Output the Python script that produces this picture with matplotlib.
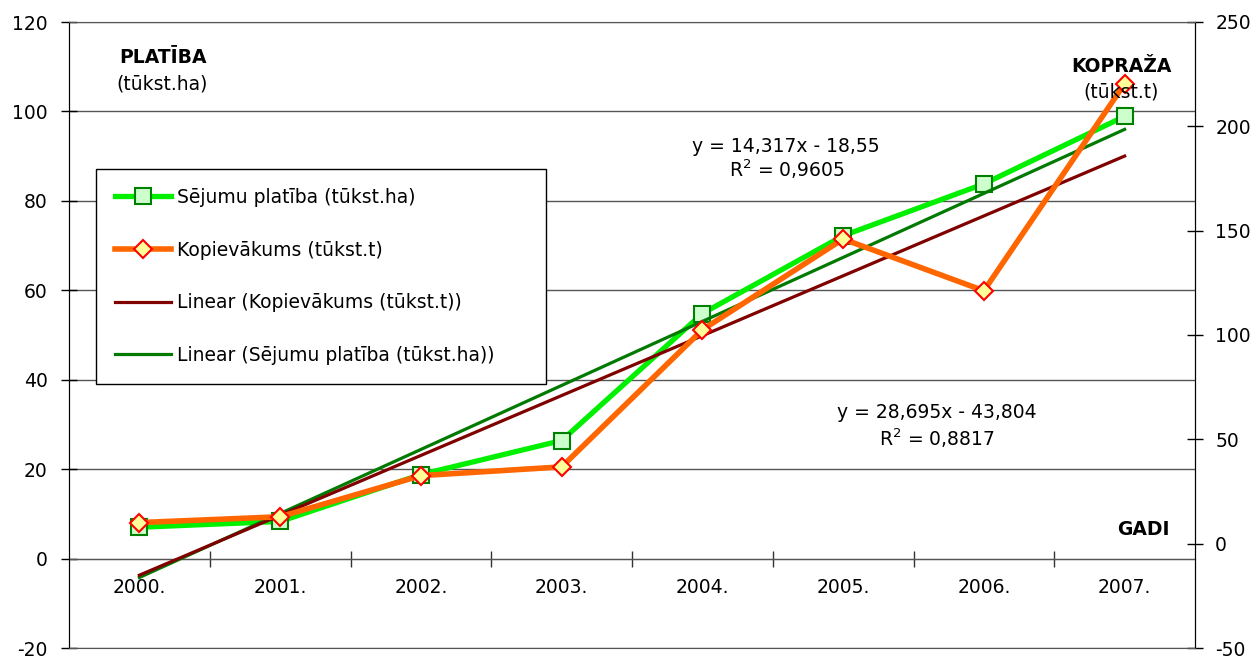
import numpy as np
import matplotlib
matplotlib.use("Agg")
import matplotlib.pyplot as plt
from matplotlib.ticker import MultipleLocator, FixedLocator

plt.rcParams['font.family'] = ['DejaVu Sans']
plt.rcParams['axes.unicode_minus'] = False

years = ["2000.", "2001.", "2002.", "2003.", "2004.", "2005.", "2006.", "2007."]
platiba = [7.0, 8.3, 18.8, 26.4, 54.8, 72.2, 83.8, 98.9]           # tūkst.ha
kopievakums = [10.1, 12.9, 32.6, 36.8, 102.5, 146.0, 121.2, 220.4]  # tūkst.t

# linear trend coefficients (x = 1..8)
platiba_trend = (14.317, -18.55, 0.9605)
kopiev_trend = (28.695, -43.804, 0.8817)

FS = 13.5
x = np.arange(1, len(years) + 1)

fig = plt.figure(figsize=(12.57, 6.58), dpi=100)
W, H = 1257, 658
ax = fig.add_axes([69 / W, 1 - 648 / H, (1195 - 69) / W, (648 - 22) / H])
ax2 = ax.twinx()

# primary axis: sown area
ax.plot(x, platiba, color='#00F000', lw=3.8, marker='s', ms=12,
        mfc='#CCFFCC', mec='#008000', mew=1.5, zorder=3,
        label='Sējumu platība (tūkst.ha)')
ax.plot(x, platiba_trend[0] * x + platiba_trend[1], color='#007A00', lw=2.3,
        zorder=4, label='Linear (Sējumu platība (tūkst.ha))')

# secondary axis: harvest
ax2.plot(x, kopiev_trend[0] * x + kopiev_trend[1], color='#800000', lw=2.3,
         zorder=2, label='Linear (Kopievākums (tūkst.t))')
ax2.plot(x, kopievakums, color='#FF6600', lw=4, marker='D', ms=9.6,
         mfc='#FFFF99', mec='#FF0000', mew=1.5, zorder=3,
         label='Kopievākums (tūkst.t)')

ax.set_xlim(0.5, 8.5)
ax.set_ylim(-20, 120)
ax2.set_ylim(-50, 250)
ax.yaxis.set_major_locator(MultipleLocator(20))
ax2.yaxis.set_major_locator(MultipleLocator(50))

ax.grid(axis='y', color='#555555', lw=1)
ax.set_axisbelow(True)

# category axis crossing at zero
ax.spines['bottom'].set_position(('data', 0))
ax.spines['bottom'].set_color('#555555')
ax.spines['top'].set_visible(False)
ax2.spines['top'].set_color('#555555')
ax2.spines['bottom'].set_color('#555555')
ax.spines['left'].set_color('black')
ax2.spines['right'].set_color('black')

ax.xaxis.set_major_locator(FixedLocator(x))
ax.set_xticklabels(years)
ax.xaxis.set_minor_locator(FixedLocator(x[:-1] + 0.5))
ax.tick_params(axis='x', which='major', length=0, pad=14, labelsize=FS)
ax.tick_params(axis='x', which='minor', length=11, direction='inout',
               width=1, color='#333333')
ax.tick_params(axis='y', length=11, direction='inout', pad=10, labelsize=FS,
               width=1)
ax2.tick_params(axis='y', length=11, direction='inout', pad=9, labelsize=FS,
                width=1)

# axis captions
def ftext(px, py, s, **kw):
    fig.text(px / W, 1 - py / H, s, fontsize=FS, ha='center', va='baseline', **kw)

ftext(163, 63, 'PLATĪBA', fontweight='bold')
ftext(162, 90, '(tūkst.ha)')
ftext(1121, 72, 'KOPRAŽA', fontweight='bold')
ftext(1121, 97, '(tūkst.t)')
ftext(1143, 535, 'GADI', fontweight='bold')

ftext(786, 152, 'y = 14,317x - 18,55')
ftext(787, 177, 'R$^{2}$ = 0,9605')
ftext(937, 418, 'y = 28,695x - 43,804')
ftext(937, 446, 'R$^{2}$ = 0,8817')

h1, l1 = ax.get_legend_handles_labels()
h2, l2 = ax2.get_legend_handles_labels()
handles = [h1[0], h2[1], h2[0], h1[1]]
labels = [l1[0], l2[1], l2[0], l1[1]]
leg = fig.legend(handles, labels, loc='upper left', mode='expand',
                 bbox_to_anchor=(96 / W, 1 - 382 / H, 450 / W, 213 / H),
                 borderaxespad=0, fontsize=FS, numpoints=1,
                 handlelength=3.0, handletextpad=0.3, labelspacing=1.8,
                 borderpad=1.0, fancybox=False, edgecolor='black',
                 framealpha=1)
leg.get_frame().set_linewidth(1)

fig.savefig('out.png', dpi=100)
